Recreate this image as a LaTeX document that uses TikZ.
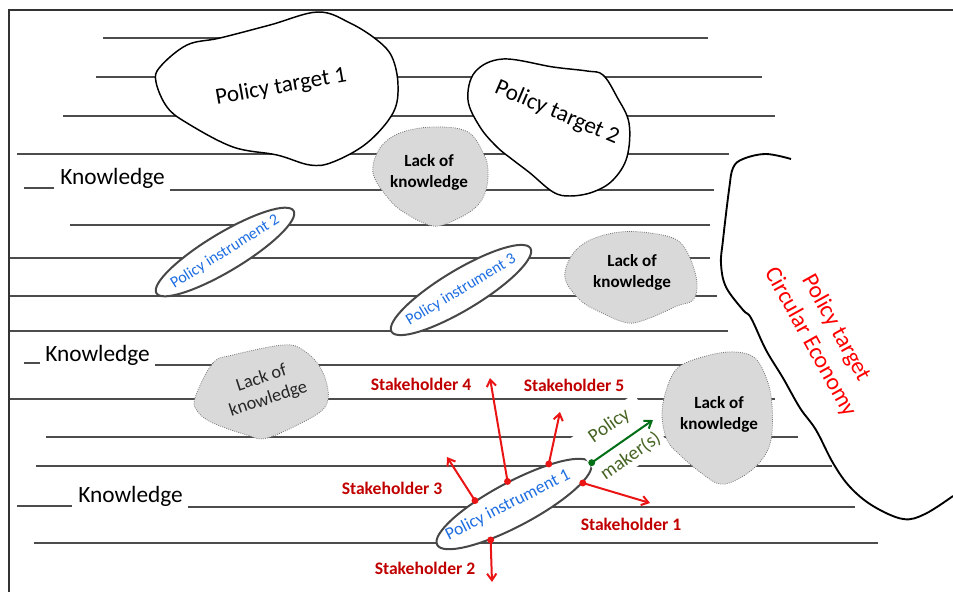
\documentclass[tikz,border=0pt]{standalone}
\usepackage{fontspec}
\setmainfont{Carlito}
\usetikzlibrary{shapes.geometric,arrows.meta}
\definecolor{stkred}{RGB}{192,0,0}
\definecolor{arrred}{RGB}{235,20,20}
\definecolor{pmgreen}{RGB}{0,110,20}
\definecolor{pmtext}{RGB}{70,100,35}
\definecolor{instblue}{RGB}{30,110,225}
\definecolor{lackgray}{RGB}{217,217,217}
\begin{document}
\begin{tikzpicture}[x=0.75pt,y=-0.75pt,>={Straight Barb[length=5pt,width=7pt]},
    rule/.style={draw=black!70,line width=1pt},
    target/.style={draw=black,line width=1.1pt,fill=white},
    lack/.style={draw=black!55,densely dotted,line width=0.6pt,fill=lackgray},
    instr/.style={ellipse,draw=black!72,line width=1.5pt,fill=white,inner sep=0pt},
    insttext/.style={text=instblue,font=\fontsize{12}{14}\selectfont,inner sep=0pt},
    know/.style={font=\fontsize{17.5}{20}\selectfont,anchor=base west,inner sep=0pt},
    lacktext/.style={align=center,font=\bfseries\fontsize{12.8}{15.75}\selectfont},
    stake/.style={text=stkred,font=\bfseries\fontsize{13.2}{15}\selectfont},
    push/.style={->,draw=arrred,line width=1.5pt},
    reddot/.style={fill=arrred}]
   \useasboundingbox (0,0) rectangle (953,592);
   % 枠
   \draw[line width=2.2pt,black!80] (953,10) -- (9,10) -- (9,592);

   % 横線
   \foreach \y/\a/\b in {38/103/708,77/96/762,116/63/775,154/17/729,190/170/714,
       225/70/710,258/10/710,296/10/717,331/10/728,365/155/740,399/10/775,
       437/46/798,466/36/832,507/188/855,543/34/878}
     \draw[rule] (\a,\y) -- (\b,\y);
   \draw[rule] (24,188) -- (54,188);
   \draw[rule] (24,363) -- (40,363);
   \draw[rule] (17,506) -- (72,506);
   \node[know] (k1) at (60,184) {Knowledge};
   \node[know] (k2) at (45,361) {Knowledge};
   \node[know] (k3) at (78,502) {Knowledge};

   % 政策目標
   \draw[target] plot[smooth cycle,tension=0.6] coordinates {(318,12) (350,23) (377,40)
       (392,57) (398,85) (393,113) (367,143) (333,162) (310,165) (277,155) (233,147)
       (187,123) (167,107) (156,82) (160,67) (187,45) (220,38) (270,25)};
   \node[rotate=10,font=\fontsize{17.3}{20}\selectfont] (pt1) at (281,87) {Policy target 1};
   \draw[target] plot[smooth cycle,tension=0.6] coordinates {(468,100) (475,72) (503,59)
       (553,67) (587,71) (603,75) (617,97) (629,123) (627,157) (613,180) (593,192)
       (570,196) (553,192) (530,173) (513,160) (497,147) (480,127)};
   \node[rotate=-23,font=\fontsize{17.3}{20}\selectfont] (pt2) at (557,113) {Policy target 2};
   \draw[line width=1.4pt] plot[smooth,tension=0.6] coordinates {(791,159) (766,154)
       (743,159) (733,168) (729,190) (723,240) (721,264) (726,287) (743,310) (751,318)
       (766,350) (783,378) (800,408) (816,430) (833,463) (850,487) (873,506) (903,519)
       (925,514) (953,496)};
   \node[rotate=-61,text=red,align=center,font=\fontsize{17.7}{22}\selectfont] (ce)
       at (823,335) {Policy target\\Circular Economy};

   % 知識の欠如
   \draw[lack] plot[smooth cycle,tension=0.6] coordinates {(373,173) (380,148) (400,133)
       (433,127) (468,132) (485,157) (488,175) (485,193) (475,208) (455,220) (433,226)
       (405,213) (388,198)};
   \node[lacktext] (lk1) at (429,172) {Lack of\\knowledge};
   \draw[lack] plot[smooth cycle,tension=0.6] coordinates {(565,278) (572,255) (590,240)
       (620,232) (650,233) (677,240) (690,258) (697,283) (693,300) (677,306) (650,318)
       (628,323) (600,312) (580,300)};
   \node[lacktext] (lk2) at (632,272) {Lack of\\knowledge};
   \draw[lack] plot[smooth cycle,tension=0.6] coordinates {(195,398) (213,363) (233,355)
       (283,345) (303,350) (320,367) (328,390) (325,407) (307,420) (267,438) (247,435)
       (213,423) (198,412)};
   \node[rotate=18,align=center,text=black!85,font=\fontsize{13.7}{16.5}\selectfont] (lk3)
       at (265,389) {Lack of\\knowledge};
   \draw[lack] plot[smooth cycle,tension=0.6] coordinates {(662,413) (668,385) (680,366)
       (710,355) (735,352) (755,358) (767,380) (772,405) (771,440) (760,462) (740,478)
       (720,484) (700,472) (680,455) (667,440)};
   \node[lacktext] (lk4) at (719,414) {Lack of\\knowledge};

   % 政策手段
   \node[instr,rotate=31,minimum width=120pt,minimum height=28.5pt] (pi2) at (225,252) {};
   \node[insttext,rotate=32] at (pi2) {Policy instrument 2};
   \node[instr,rotate=31,minimum width=121.5pt,minimum height=30pt] (pi3) at (461,290) {};
   \node[insttext,rotate=31] at (pi3) {Policy instrument 3};
   \node[instr,rotate=28,minimum width=130.5pt,minimum height=33pt] (pi1) at (514,504) {};
   \node[insttext,rotate=27,font=\fontsize{13.2}{15}\selectfont] at (508,505) {Policy instrument 1};

   % 政策立案者
   \node[rotate=35,fill=white,text=pmtext,align=center,inner sep=3pt,
       font=\fontsize{14.5}{17.4}\selectfont] (pm) at (620,441) {Policy\\[10.5pt]maker(s)};
   \coordinate (tp) at (653,420);
   \draw[->,pmgreen,line width=1.5pt] (pi1.0) -- (tp);
   \fill[pmgreen] (pi1.0) circle (2.6pt);

   % 利害関係者
   \node[stake] (s1) at (631,524) {Stakeholder 1};
   \node[stake] (s2) at (425,568) {Stakeholder 2};
   \node[stake] (s3) at (392,488) {Stakeholder 3};
   \node[stake] (s4) at (421,384) {Stakeholder 4};
   \node[stake] (s5) at (574,385) {Stakeholder 5};
   \coordinate (t1) at (650,503);
   \coordinate (t2) at (492,582);
   \coordinate (t3) at (447,457);
   \coordinate (t4) at (490,378);
   \coordinate (t5) at (560,412);
   \foreach \ang/\tip in {349/t1,209/t2,147/t3,78/t4,21/t5}{
     \draw[push] (pi1.\ang) -- (\tip);
     \fill[reddot] (pi1.\ang) circle (2.6pt);
   }
\end{tikzpicture}
\end{document}
